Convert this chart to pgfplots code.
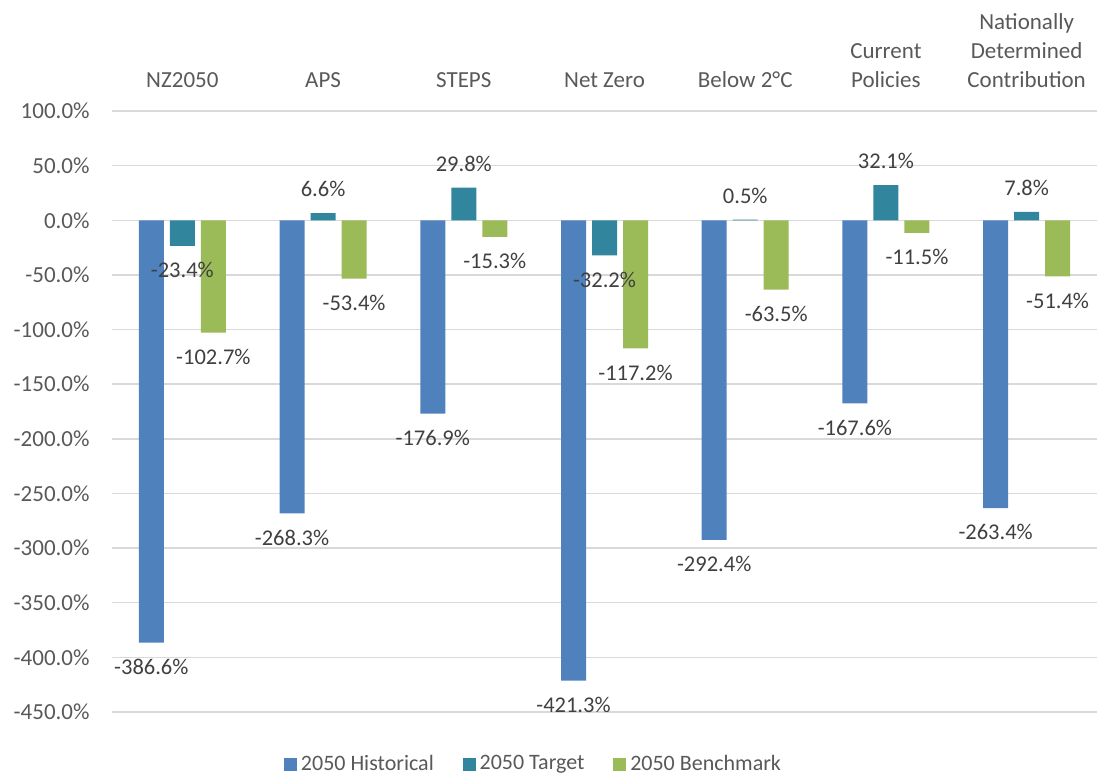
\documentclass[border=0pt]{standalone}
\usepackage{fontspec}
\setmainfont{Carlito}
\usepackage{pgfplots}
\pgfplotsset{compat=1.18}
\definecolor{cHist}{HTML}{4F81BD}
\definecolor{cTarg}{HTML}{31859C}
\definecolor{cBench}{HTML}{9BBB59}
\definecolor{cGrid}{HTML}{D9D9D9}
\definecolor{cTick}{HTML}{595959}
\definecolor{cLab}{HTML}{404040}
\begin{document}
\begin{tikzpicture}
\useasboundingbox (-56pt,-33pt) rectangle (492.5pt,356pt);
\begin{axis}[
  at={(0,0)}, anchor=south west,
  scale only axis, width=492.5pt, height=300.5pt,
  font=\fontsize{11.25}{14.5}\selectfont,
  ybar=3pt, bar width=12.5pt,
  xmin=-0.5, xmax=6.5, ymin=-450, ymax=100,
  xtick={0,1,2,3,4,5,6},
  xticklabels={NZ2050,APS,STEPS,Net Zero,Below 2°C,Current\\Policies,Nationally\\Determined\\Contribution},
  xticklabel pos=upper,
  xticklabel style={align=center, anchor=south, inner sep=0pt, text=cTick, font=\fontsize{11.5}{14.5}\selectfont},
  xticklabel shift=11.5pt,
  ytick={-450,-400,...,100},
  yticklabel={\pgfmathprintnumber[fixed,fixed zerofill,precision=1]{\tick}\%},
  yticklabel style={anchor=east, inner sep=0pt, text=cTick, font=\fontsize{11.5}{14.5}\selectfont},
  yticklabel shift=11pt,
  /pgf/number format/assume math mode=true,
  axis line style={draw=none},
  major tick length=0pt,
  ymajorgrids, major grid style={cGrid, line width=0.75pt},
  extra y ticks={0}, extra y tick labels={},
  extra y tick style={grid style={cTarg, line width=0.9pt}},
  nodes near coords={\pgfmathprintnumber[fixed,fixed zerofill,precision=1,assume math mode=true]{\pgfplotspointmeta}\%},
  every node near coord/.append style={text=cLab, inner xsep=0pt, inner ysep=8pt, font=\fontsize{11.25}{14.5}\selectfont},
  legend style={at={(0.429,-0.087)}, anchor=center, draw=none, legend columns=3,
    font=\fontsize{11}{14.5}\selectfont, text=cTick,
    /tikz/every even column/.append style={column sep=12.5pt}},
  legend image code/.code={\fill[#1] (0pt,-3.2pt) rectangle (6.4pt,3.2pt);},
]
\addplot[fill=cHist, draw=none] coordinates {(0,-386.6) (1,-268.3) (2,-176.9) (3,-421.3) (4,-292.4) (5,-167.6) (6,-263.4)};
\addplot[fill=cTarg, draw=none] coordinates {(0,-23.4) (1,6.6) (2,29.8) (3,-32.2) (4,0.5) (5,32.1) (6,7.8)};
\addplot[fill=cBench, draw=none] coordinates {(0,-102.7) (1,-53.4) (2,-15.3) (3,-117.2) (4,-63.5) (5,-11.5) (6,-51.4)};
\legend{2050 Historical,2050 Target,2050 Benchmark}
\end{axis}
\end{tikzpicture}
\end{document}
